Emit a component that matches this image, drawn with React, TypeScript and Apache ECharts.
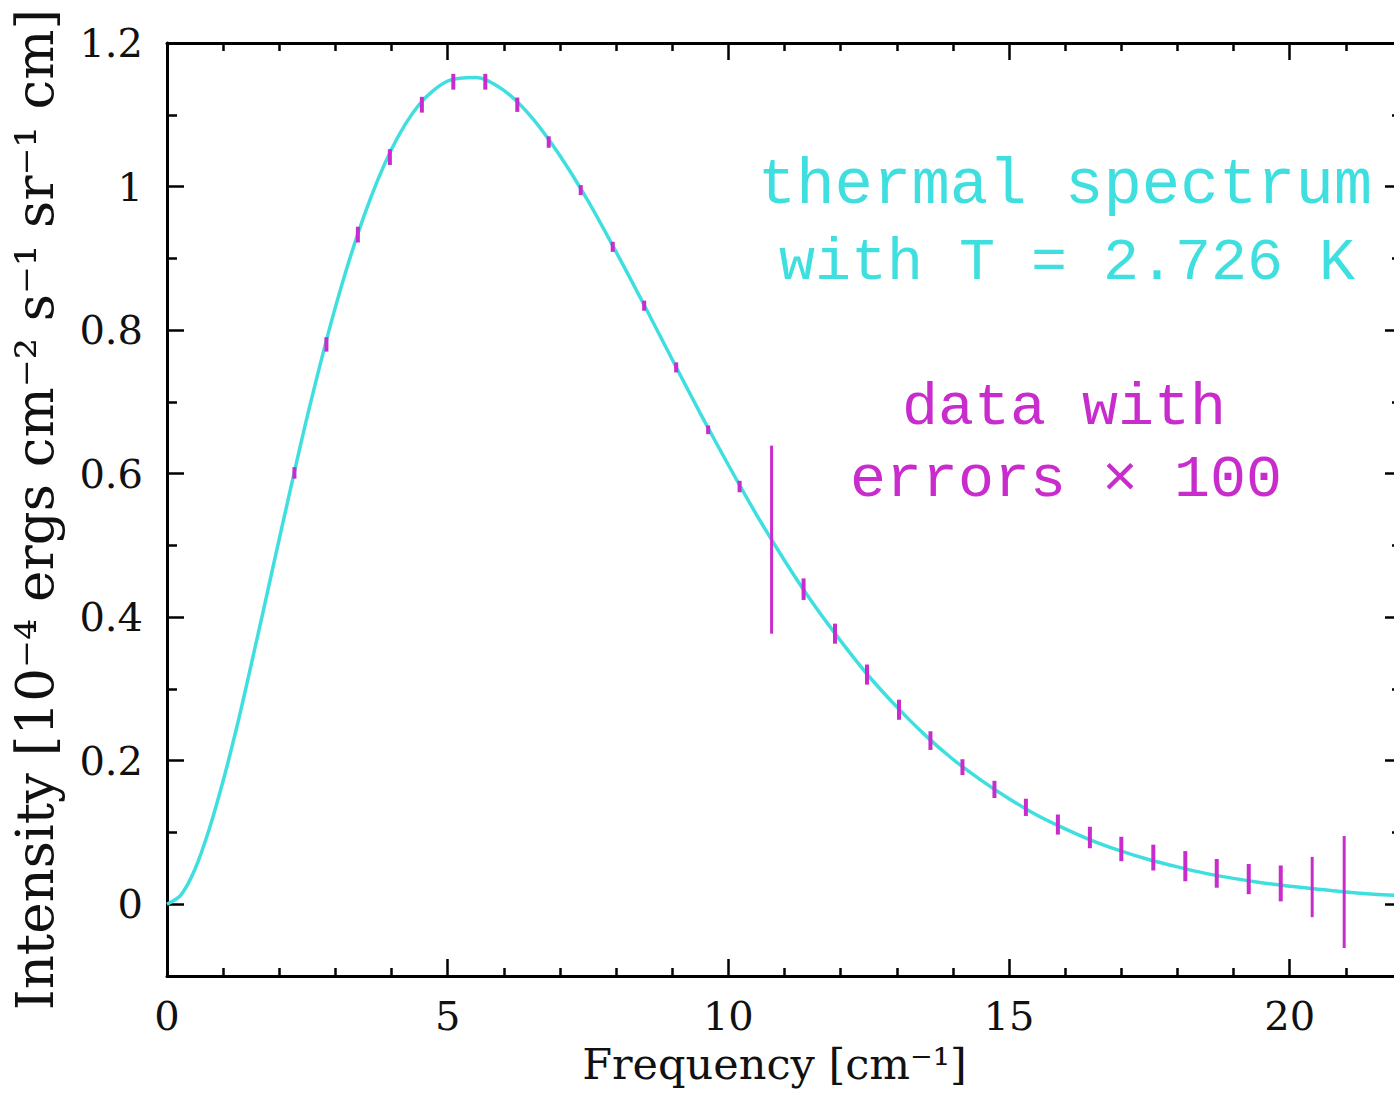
import React, { useEffect, useRef } from "react";
import * as echarts from "echarts";

// Theoretical thermal curve (frequency in cm^-1, intensity)
const curveFreq = [0, 0.25, 0.5, 0.75, 1, 1.25, 1.5, 1.75, 2, 2.5, 3, 3.5, 4, 4.5, 5, 5.5, 6, 6.5, 7, 7.5, 8, 8.5, 9, 9.5, 10, 10.5, 11, 11.5, 12, 12.5, 13, 13.5, 14, 14.5, 15, 15.5, 16, 16.5, 17, 17.5, 18, 18.5, 19, 19.5, 20, 20.5, 21, 21.5, 22];
const curveIntensity = [0, 0.013, 0.049, 0.104, 0.172, 0.249, 0.334, 0.421, 0.509, 0.680, 0.832, 0.957, 1.052, 1.115, 1.147, 1.152, 1.134, 1.096, 1.043, 0.980, 0.909, 0.835, 0.759, 0.684, 0.612, 0.543, 0.479, 0.420, 0.367, 0.318, 0.275, 0.236, 0.202, 0.173, 0.147, 0.124, 0.105, 0.088, 0.074, 0.062, 0.052, 0.043, 0.036, 0.030, 0.025, 0.021, 0.017, 0.014, 0.012];

// Measured data points with errors (errors shown x 100)
const dataFreq = [2.27, 2.84, 3.40, 3.97, 4.54, 5.10, 5.67, 6.24, 6.80, 7.37, 7.94, 8.50, 9.07, 9.64, 10.20, 10.77, 11.34, 11.90, 12.47, 13.04, 13.60, 14.17, 14.74, 15.30, 15.87, 16.44, 17.00, 17.57, 18.14, 18.70, 19.27, 19.84, 20.40, 20.97];
const dataIntensity = [0.601, 0.780, 0.933, 1.041, 1.114, 1.146, 1.146, 1.114, 1.062, 0.995, 0.916, 0.834, 0.748, 0.661, 0.582, 0.508, 0.439, 0.377, 0.320, 0.271, 0.228, 0.191, 0.160, 0.135, 0.111, 0.093, 0.077, 0.065, 0.053, 0.043, 0.035, 0.029, 0.024, 0.017];
const dataErrorX100 = [0.008, 0.010, 0.011, 0.011, 0.011, 0.011, 0.011, 0.010, 0.008, 0.007, 0.007, 0.007, 0.007, 0.006, 0.008, 0.131, 0.015, 0.014, 0.014, 0.014, 0.013, 0.011, 0.012, 0.012, 0.014, 0.015, 0.017, 0.018, 0.021, 0.020, 0.021, 0.025, 0.042, 0.078];

// Tick values
const xMajorTicks = [0, 5, 10, 15, 20];
const xMinorTicks = [1, 2, 3, 4, 6, 7, 8, 9, 11, 12, 13, 14, 16, 17, 18, 19, 21, 22];
const yMajorTicks = [0, 0.2, 0.4, 0.6, 0.8, 1, 1.2];
const yMinorTicks = [-0.1, 0.1, 0.3, 0.5, 0.7, 0.9, 1.1];

const X_MIN = 0;
const X_MAX = 22;
const Y_MIN = -0.1;
const Y_MAX = 1.2;

const CYAN = "#3fdfdf";
const MAGENTA = "#c82ccc";
const SERIF = "'DejaVu Serif', 'Liberation Serif', serif";
const MONO = "'Liberation Mono', 'DejaVu Sans Mono', monospace";

export default function App() {
  const ref = useRef<HTMLDivElement>(null);

  useEffect(() => {
    if (!ref.current) return;
    const chart = echarts.init(ref.current, undefined, { renderer: "svg" });

    const axisLine = { show: true, onZero: false, lineStyle: { color: "#000", width: 3 } };
    const hidden = { show: false, onZero: false };

    const xBase = (position: string, ticks: number[], len: number, showLine: boolean, labels: boolean) => ({
      type: "value",
      position,
      min: X_MIN,
      max: X_MAX,
      axisLine: showLine ? axisLine : hidden,
      axisTick: { show: true, inside: true, length: len, customValues: ticks, lineStyle: { color: "#000", width: 2.5 } },
      axisLabel: labels
        ? { show: true, customValues: ticks, margin: 20, color: "#111", fontFamily: SERIF, fontSize: 40 }
        : { show: false },
      splitLine: { show: false },
    });
    const yBase = (position: string, ticks: number[], len: number, showLine: boolean, labels: boolean) => ({
      type: "value",
      position,
      min: Y_MIN,
      max: Y_MAX,
      axisLine: showLine ? axisLine : hidden,
      axisTick: { show: true, inside: true, length: len, customValues: ticks, lineStyle: { color: "#000", width: 2.5 } },
      axisLabel: labels
        ? { show: true, customValues: ticks, margin: 24, color: "#111", fontFamily: SERIF, fontSize: 40 }
        : { show: false },
      splitLine: { show: false },
    });

    const xAxes: any[] = [
      {
        ...xBase("bottom", xMajorTicks, 17, true, true),
        name: "Frequency [cm\u207B\u00B9]",
        nameLocation: "middle",
        nameGap: 66,
        nameTextStyle: { color: "#111", fontFamily: SERIF, fontSize: 43, padding: [0, 20, 0, 0] },
      },
      xBase("bottom", xMinorTicks, 8, false, false),
      xBase("top", xMajorTicks, 17, true, false),
      xBase("top", xMinorTicks, 8, false, false),
    ];
    const yAxes: any[] = [
      {
        ...yBase("left", yMajorTicks, 17, true, true),
        name: "Intensity [10\u207B\u2074 ergs cm\u207B\u00B2 s\u207B\u00B9 sr\u207B\u00B9 cm]",
        nameLocation: "middle",
        nameRotate: 90,
        nameGap: 106,
        nameTextStyle: { color: "#111", fontFamily: SERIF, fontSize: 53 },
      },
      yBase("left", yMinorTicks, 10, false, false),
      yBase("right", yMajorTicks, 17, true, false),
      yBase("right", yMinorTicks, 10, false, false),
    ];

    const curve = curveFreq.map((f, i) => [f, curveIntensity[i]]);
    const points = dataFreq.map((f, i) => [f, dataIntensity[i], dataErrorX100[i]]);

    chart.setOption({
      animation: false,
      backgroundColor: "#fff",
      grid: {
        left: 167,
        right: -8,
        top: 43,
        bottom: 117,
        containLabel: false,
        outerBoundsMode: "none",
      },
      xAxis: xAxes,
      yAxis: yAxes,
      series: [
        {
          type: "line",
          name: "thermal spectrum",
          data: curve,
          xAxisIndex: 0,
          yAxisIndex: 0,
          smooth: 0.3,
          showSymbol: false,
          symbol: "none",
          lineStyle: { color: CYAN, width: 3.5 },
          z: 2,
        },
        {
          type: "custom",
          name: "data",
          data: points,
          xAxisIndex: 0,
          yAxisIndex: 0,
          encode: { x: 0, y: 1 },
          z: 3,
          renderItem: (params: any, api: any) => {
            const x = api.value(0);
            const y = api.value(1);
            const e = api.value(2);
            const top = api.coord([x, y + e]);
            const bot = api.coord([x, y - e]);
            return {
              type: "line",
              shape: { x1: top[0], y1: top[1], x2: bot[0], y2: bot[1] },
              style: { stroke: MAGENTA, lineWidth: e > 0.03 ? 3 : 4 },
            };
          },
        },
      ],
      graphic: [
        {
          type: "text",
          x: 1065,
          y: 186,
          style: { text: "thermal spectrum", fill: CYAN, fontFamily: MONO, fontSize: 64, align: "center", verticalAlign: "middle" },
        },
        {
          type: "text",
          x: 1067,
          y: 263,
          style: { text: "with T = 2.726 K", fill: CYAN, fontFamily: MONO, fontSize: 60, align: "center", verticalAlign: "middle" },
        },
        {
          type: "text",
          x: 1064,
          y: 408,
          style: { text: "data with", fill: MAGENTA, fontFamily: MONO, fontSize: 60, align: "center", verticalAlign: "middle" },
        },
        {
          type: "text",
          x: 1066,
          y: 480,
          style: { text: "errors \u00D7 100", fill: MAGENTA, fontFamily: MONO, fontSize: 60, align: "center", verticalAlign: "middle" },
        },
      ],
    });

    return () => chart.dispose();
  }, []);

  return (
    <div
      ref={ref}
      style={{ position: "absolute", left: 0, top: 0, width: 1394, height: 1093, background: "#fff" }}
    />
  );
}
